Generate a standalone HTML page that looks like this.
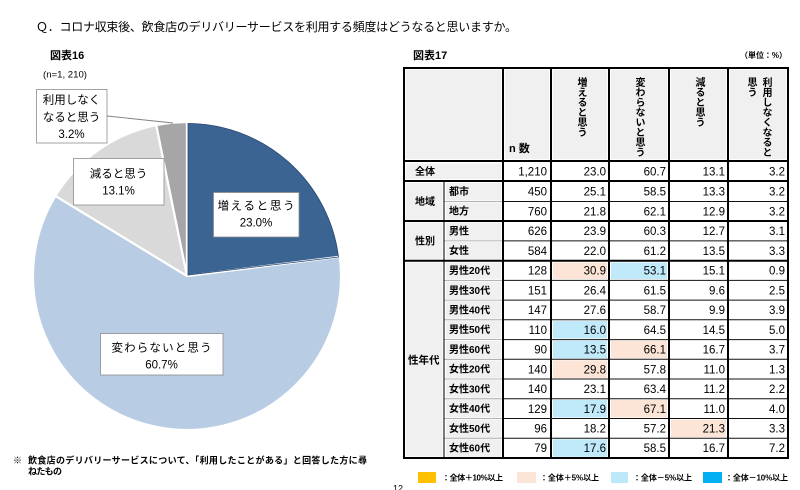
<!DOCTYPE html>
<html><head><meta charset="utf-8">
<style>
html,body{margin:0;padding:0;background:#fff;}
body{width:800px;height:490px;position:relative;overflow:hidden;font-family:"Liberation Sans","Noto Sans CJK JP",sans-serif;}
.v{position:absolute;writing-mode:vertical-rl;font-size:10px;line-height:12px;font-weight:bold;color:#000;font-family:"Liberation Sans","Noto Sans CJK JP",sans-serif;white-space:nowrap;}
</style></head>
<body>
<svg width="800" height="490" viewBox="0 0 800 490" style="position:absolute;left:0;top:0" font-family="'Liberation Sans','Noto Sans CJK JP',sans-serif">
<!-- Title -->
<text x="36" y="31" font-size="12" textLength="481" lengthAdjust="spacing" fill="#000">Ｑ．コロナ収束後、飲食店のデリバリーサービスを利用する頻度はどうなると思いますか。</text>
<text x="50" y="59" font-size="11" font-weight="bold" fill="#000">図表16</text>
<text x="43" y="77.5" font-size="9" textLength="44" lengthAdjust="spacingAndGlyphs" fill="#000">(n=1, 210)</text>

<!-- Pie -->
<g stroke="#fff" stroke-width="2.2" stroke-linejoin="round">
<path d="M187,276 L339.79,256.70 A154,154 0 1 1 55.44,195.93 Z" fill="#B8CCE4"/>
<path d="M187,276 L55.44,195.93 A154,154 0 0 1 156.25,125.10 Z" fill="#D9D9D9"/>
<path d="M187,276 L156.25,125.10 A154,154 0 0 1 187,122 Z" fill="#A6A6A6"/>
<path d="M187,276 L187,122 A154,154 0 0 1 339.79,256.70 Z" fill="#3C6493"/>
</g>
<path d="M188,275 L188,123.5 A152.5,152.5 0 0 1 338.5,257 Z" fill="none" stroke="#2A4A75" stroke-width="0.8"/>

<!-- leader line -->
<line x1="107" y1="116" x2="173" y2="123" stroke="#808080" stroke-width="0.9"/>

<!-- label boxes -->
<g fill="#fff" stroke="#8c8c8c" stroke-width="0.8">
<rect x="36.5" y="89.5" width="70.5" height="53.5"/>
<rect x="73.5" y="158.5" width="90.5" height="46.5"/>
<rect x="213.5" y="192.5" width="85.5" height="44.5"/>
<rect x="100.5" y="333.5" width="122.5" height="41.5"/>
</g>
<g font-size="11.5" fill="#000" text-anchor="middle">
<text x="71.5" y="103.5">利用しなく</text>
<text x="71.5" y="121">なると思う</text>
<text x="71.5" y="138">3.2%</text>
<text x="118.5" y="177.5">減ると思う</text>
<text x="118.5" y="194.5">13.1%</text>
<text x="256" y="209.5" textLength="77" lengthAdjust="spacing">増えると思う</text>
<text x="256" y="226.5">23.0%</text>
<text x="161.5" y="351.5" textLength="100" lengthAdjust="spacing">変わらないと思う</text>
<text x="161.5" y="368.5">60.7%</text>
</g>

<!-- footnote -->
<text x="13" y="463.5" font-size="9" font-weight="bold" fill="#000">※</text>
<text x="28" y="463.5" font-size="9" font-weight="bold" textLength="339" lengthAdjust="spacing" fill="#000">飲食店のデリバリーサービスについて、「利用したことがある」と回答した方に尋</text>
<text x="28" y="474.5" font-size="9" font-weight="bold" textLength="34" lengthAdjust="spacing" fill="#000">ねたもの</text>
<text x="393" y="491.5" font-size="9" fill="#000">12</text>

<!-- Table titles -->
<text x="413" y="59" font-size="11" font-weight="bold" fill="#000">図表17</text>
<text x="740" y="58" font-size="8" font-weight="bold" textLength="47" lengthAdjust="spacing" fill="#000">（単位：%）</text>

<!-- header cell fills -->
<g fill="#F0F0F0">
<rect x="406" y="70" width="95" height="89"/>
<rect x="505" y="70" width="44" height="89"/>
<rect x="553" y="70" width="54" height="89"/>
<rect x="611" y="70" width="56" height="89"/>
<rect x="671" y="70" width="55" height="89"/>
<rect x="730" y="70" width="56" height="89"/>
<!-- label cells -->
<rect x="406" y="163.5" width="95" height="15.5"/>
<rect x="406" y="183" width="36.5" height="36.5"/>
<rect x="406" y="222.5" width="36.5" height="36.5"/>
<rect x="406" y="262.5" width="36.5" height="194"/>
<rect x="446" y="183" width="55" height="17.5"/>
<rect x="446" y="202.5" width="55" height="17"/>
<rect x="446" y="222.5" width="55" height="17.5"/>
<rect x="446" y="242" width="55" height="17"/>
<rect x="446" y="262.5" width="55" height="17"/>
<rect x="446" y="281.5" width="55" height="17.5"/>
<rect x="446" y="301.2" width="55" height="17.5"/>
<rect x="446" y="321" width="55" height="17.5"/>
<rect x="446" y="340.7" width="55" height="17.5"/>
<rect x="446" y="360.4" width="55" height="17.5"/>
<rect x="446" y="380.1" width="55" height="17.5"/>
<rect x="446" y="399.9" width="55" height="17.5"/>
<rect x="446" y="419.6" width="55" height="17.5"/>
<rect x="446" y="439.3" width="55" height="17.5"/>
</g>

<!-- highlighted cells -->
<g>
<rect x="553" y="262.5" width="54" height="16.5" fill="#FCE4D6"/>
<rect x="611" y="262.5" width="56" height="16.5" fill="#C0E9FA"/>
<rect x="553" y="321" width="54" height="17.5" fill="#C0E9FA"/>
<rect x="553" y="340.7" width="54" height="17.5" fill="#C0E9FA"/>
<rect x="611" y="340.7" width="56" height="17.5" fill="#FCE4D6"/>
<rect x="553" y="360.4" width="54" height="17.5" fill="#FCE4D6"/>
<rect x="553" y="399.9" width="54" height="17.5" fill="#C0E9FA"/>
<rect x="611" y="399.9" width="56" height="17.5" fill="#FCE4D6"/>
<rect x="671" y="419.6" width="55" height="17.5" fill="#FCE4D6"/>
<rect x="553" y="439.3" width="54" height="17.5" fill="#C0E9FA"/>
</g>

<!-- thin lines -->
<g stroke="#111" stroke-width="1">
<line x1="503" y1="201.5" x2="788" y2="201.5"/>
<line x1="503" y1="240.9" x2="788" y2="240.9"/>
<line x1="503" y1="280.4" x2="788" y2="280.4"/>
<line x1="503" y1="300.1" x2="788" y2="300.1"/>
<line x1="503" y1="319.8" x2="788" y2="319.8"/>
<line x1="503" y1="339.6" x2="788" y2="339.6"/>
<line x1="503" y1="359.3" x2="788" y2="359.3"/>
<line x1="503" y1="379" x2="788" y2="379"/>
<line x1="503" y1="398.8" x2="788" y2="398.8"/>
<line x1="503" y1="418.5" x2="788" y2="418.5"/>
<line x1="503" y1="438.2" x2="788" y2="438.2"/>
</g>
<g stroke="#9a9a9a" stroke-width="0.8">
<line x1="444" y1="201.5" x2="503" y2="201.5"/>
<line x1="444" y1="240.9" x2="503" y2="240.9"/>
<line x1="444" y1="280.4" x2="503" y2="280.4"/>
<line x1="444" y1="300.1" x2="503" y2="300.1"/>
<line x1="444" y1="319.8" x2="503" y2="319.8"/>
<line x1="444" y1="339.6" x2="503" y2="339.6"/>
<line x1="444" y1="359.3" x2="503" y2="359.3"/>
<line x1="444" y1="379" x2="503" y2="379"/>
<line x1="444" y1="398.8" x2="503" y2="398.8"/>
<line x1="444" y1="418.5" x2="503" y2="418.5"/>
<line x1="444" y1="438.2" x2="503" y2="438.2"/>
</g>
<line x1="444" y1="181" x2="444" y2="458" stroke="#222" stroke-width="1.2"/>

<!-- thick lines -->
<g stroke="#000" stroke-width="2" fill="none">
<rect x="404" y="68" width="384" height="390"/>
<line x1="503" y1="68" x2="503" y2="458"/>
<line x1="551" y1="68" x2="551" y2="458"/>
<line x1="609" y1="68" x2="609" y2="458"/>
<line x1="669" y1="68" x2="669" y2="458"/>
<line x1="728" y1="68" x2="728" y2="458"/>
<line x1="404" y1="161" x2="788" y2="161"/>
<line x1="404" y1="181" x2="788" y2="181"/>
<line x1="404" y1="221" x2="788" y2="221"/>
<line x1="404" y1="260.7" x2="788" y2="260.7"/>
</g>

<!-- header n数 -->
<text x="509" y="152" font-size="11" font-weight="bold" fill="#000">n 数</text>

<!-- row labels -->
<g font-size="10" font-weight="bold" fill="#000">
<text x="415" y="175">全体</text>
<text x="415" y="205">地域</text>
<text x="415" y="244.5">性別</text>
<text x="408" y="363.5" font-size="10.5">性年代</text>
<text x="449" y="195">都市</text>
<text x="449" y="214.5">地方</text>
<text x="449" y="234.5">男性</text>
<text x="449" y="254">女性</text>
<text x="449" y="274">男性20代</text>
<text x="449" y="293.8">男性30代</text>
<text x="449" y="313.5">男性40代</text>
<text x="449" y="333.2">男性50代</text>
<text x="449" y="353">男性60代</text>
<text x="449" y="372.7">女性20代</text>
<text x="449" y="392.4">女性30代</text>
<text x="449" y="412.2">女性40代</text>
<text x="449" y="431.9">女性50代</text>
<text x="449" y="451.6">女性60代</text>
</g>

<!-- numbers -->
<g font-size="11.5" fill="#000" text-anchor="end" font-family="'Liberation Sans',sans-serif">
<g transform="translate(0,175.3)"><text x="547">1,210</text><text x="606">23.0</text><text x="666">60.7</text><text x="725">13.1</text><text x="785">3.2</text></g>
<g transform="translate(0,195.7)"><text x="547">450</text><text x="606">25.1</text><text x="666">58.5</text><text x="725">13.3</text><text x="785">3.2</text></g>
<g transform="translate(0,215.4)"><text x="547">760</text><text x="606">21.8</text><text x="666">62.1</text><text x="725">12.9</text><text x="785">3.2</text></g>
<g transform="translate(0,235.2)"><text x="547">626</text><text x="606">23.9</text><text x="666">60.3</text><text x="725">12.7</text><text x="785">3.1</text></g>
<g transform="translate(0,254.9)"><text x="547">584</text><text x="606">22.0</text><text x="666">61.2</text><text x="725">13.5</text><text x="785">3.3</text></g>
<g transform="translate(0,274.6)"><text x="547">128</text><text x="606">30.9</text><text x="666">53.1</text><text x="725">15.1</text><text x="785">0.9</text></g>
<g transform="translate(0,294.4)"><text x="547">151</text><text x="606">26.4</text><text x="666">61.5</text><text x="725">9.6</text><text x="785">2.5</text></g>
<g transform="translate(0,314.1)"><text x="547">147</text><text x="606">27.6</text><text x="666">58.7</text><text x="725">9.9</text><text x="785">3.9</text></g>
<g transform="translate(0,333.8)"><text x="547">110</text><text x="606">16.0</text><text x="666">64.5</text><text x="725">14.5</text><text x="785">5.0</text></g>
<g transform="translate(0,353.6)"><text x="547">90</text><text x="606">13.5</text><text x="666">66.1</text><text x="725">16.7</text><text x="785">3.7</text></g>
<g transform="translate(0,373.3)"><text x="547">140</text><text x="606">29.8</text><text x="666">57.8</text><text x="725">11.0</text><text x="785">1.3</text></g>
<g transform="translate(0,393)"><text x="547">140</text><text x="606">23.1</text><text x="666">63.4</text><text x="725">11.2</text><text x="785">2.2</text></g>
<g transform="translate(0,412.8)"><text x="547">129</text><text x="606">17.9</text><text x="666">67.1</text><text x="725">11.0</text><text x="785">4.0</text></g>
<g transform="translate(0,432.5)"><text x="547">96</text><text x="606">18.2</text><text x="666">57.2</text><text x="725">21.3</text><text x="785">3.3</text></g>
<g transform="translate(0,452.2)"><text x="547">79</text><text x="606">17.6</text><text x="666">58.5</text><text x="725">16.7</text><text x="785">7.2</text></g>
</g>

<!-- legend -->
<rect x="418" y="472" width="18" height="11" fill="#FFC000"/>
<rect x="517" y="472" width="19" height="11" fill="#FBE5D6"/>
<rect x="611" y="472" width="17" height="11" fill="#BDE8FA"/>
<rect x="703" y="472" width="19" height="11" fill="#00B0F0"/>
<g font-size="8" font-weight="bold" fill="#000">
<text x="442" y="480.5" textLength="61" lengthAdjust="spacing">：全体＋10%以上</text>
<text x="540" y="480.5" textLength="59" lengthAdjust="spacing">：全体＋5%以上</text>
<text x="633" y="480.5" textLength="59" lengthAdjust="spacing">：全体－5%以上</text>
<text x="725" y="480.5" textLength="63" lengthAdjust="spacing">：全体－10%以上</text>
</g>
</svg>

<!-- vertical header texts -->
<div class="v" style="left:574px;top:77px;">増えると思う</div>
<div class="v" style="left:632px;top:77px;">変わらないと思う</div>
<div class="v" style="left:692px;top:77px;">減ると思う</div>
<div class="v" style="left:759px;top:77px;">利用しなくなると</div>
<div class="v" style="left:744px;top:77px;">思う</div>
</body></html>
